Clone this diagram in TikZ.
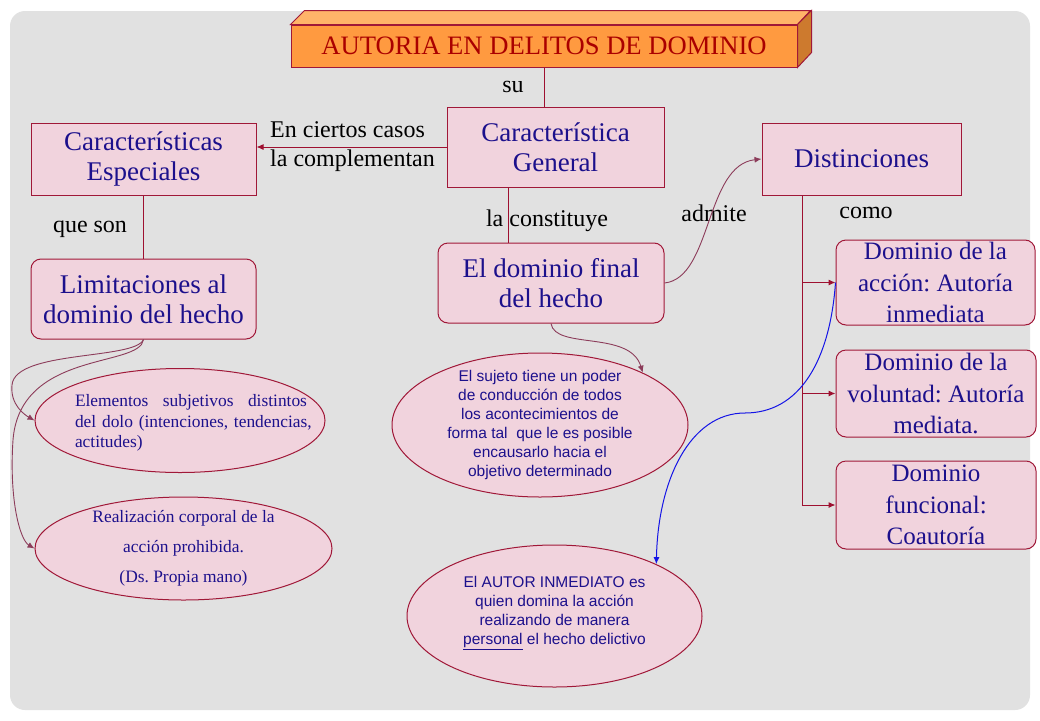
\documentclass[tikz,border=0pt]{standalone}
\usepackage{fontspec}
\setmainfont{Liberation Serif}
\newfontfamily\arialfont{Liberation Sans}
\usetikzlibrary{shapes.geometric,arrows.meta}
\frenchspacing

\definecolor{panelgray}{RGB}{225,225,225}
\definecolor{boxpink}{RGB}{241,211,221}
\definecolor{boxline}{RGB}{160,24,56}
\definecolor{boxtext}{RGB}{28,16,140}
\definecolor{linkred}{RGB}{158,16,48}
\definecolor{curvered}{RGB}{140,60,90}
\definecolor{titlefront}{RGB}{255,154,64}
\definecolor{titletop}{RGB}{255,180,105}
\definecolor{titleside}{RGB}{205,122,46}
\definecolor{titletext}{RGB}{170,0,0}
\definecolor{bluelink}{RGB}{20,20,230}

\begin{document}
\begin{tikzpicture}[x=1pt, y=-1pt,
  box/.style={draw=boxline, line width=1pt, fill=boxpink, text=boxtext, align=center, inner sep=0pt, font=\fontsize{27}{30}\selectfont},
  rbox/.style={box, rounded corners=10pt},
  dbox/.style={rbox, font=\fontsize{25}{31.5}\selectfont},
  oval/.style={ellipse, draw=boxline, line width=1pt, fill=boxpink, inner sep=0pt},
  ovaltext/.style={text=boxtext, align=center, inner sep=0pt},
  lbl/.style={font=\fontsize{24}{29}\selectfont, inner sep=0pt},
  link/.style={draw=linkred, line width=1pt},
  curv/.style={draw=curvered, line width=0.9pt},
  headed/.style={-{Latex[length=7pt,width=6pt]}}
]
% Set the page and the grey panel
\useasboundingbox (0,0) rectangle (1040,720);
\fill[white] (0,0) rectangle (1040,720);
\fill[panelgray, rounded corners=15pt] (10,11) rectangle (1030,710);

% Title block with its top and side faces
\node[draw=boxline, line width=1pt, fill=titlefront, text=titletext, minimum width=506, minimum height=42, inner sep=0pt, font=\fontsize{26.6}{30}\selectfont] (title) at (544,46) {AUTORIA EN DELITOS DE DOMINIO};
\draw[boxline, line width=1pt, fill=titletop] (title.north west) -- ++(14,-14) -- ++(506,0) -- (title.north east) -- cycle;
\draw[boxline, line width=1pt, fill=titleside] (title.north east) -- ++(14,-14) -- ++(0,42) -- (title.south east) -- cycle;

% Boxes
\node[box, minimum width=217, minimum height=80] (cg) at (555.5,147) {Característica\\General};
\node[box, minimum width=225, minimum height=72] (ce) at (143.5,159) {Características\\Especiales};
\node[rbox, minimum width=225, minimum height=80] (lim) at (143.5,299) {Limitaciones al\\dominio del hecho};
\node[rbox, minimum width=226, minimum height=80] (dfin) at (551,283) {El dominio final\\del hecho};
\node[box, minimum width=199, minimum height=72] (dist) at (861.5,159) {Distinciones};
\node[dbox, minimum width=199, minimum height=85] (dacc) at (935.5,282.5) {Dominio de la\\acción: Autoría\\inmediata};
\node[dbox, minimum width=200, minimum height=87] (dvol) at (936,393.5) {Dominio de la\\voluntad: Autoría\\mediata.};
\node[dbox, minimum width=200, minimum height=88] (dfun) at (936,505) {Dominio\\funcional:\\Coautoría};

% Ellipses and their texts
\node[oval, minimum width=290, minimum height=104] (elem) at (180,420.5) {};
\node[ovaltext, text width=240, align=left, font=\fontsize{17.4}{20.5}\selectfont] (elemtxt) at (195,423) {\hbox to 232pt{Elementos\hfil subjetivos\hfil distintos}\\del dolo (intenciones, tendencias,\\actitudes)};
\node[oval, minimum width=297, minimum height=103] (real) at (183.5,548.5) {};
\node[ovaltext, font=\fontsize{17.4}{30}\selectfont] (realtxt) at (real.center) {Realización corporal de la\\acción prohibida.\\(Ds.\ Propia mano)};
\node[oval, minimum width=296, minimum height=144] (suj) at (540,425) {};
\node[ovaltext, font=\arialfont\fontsize{15.5}{19}\selectfont] (sujtxt) at (suj.center) {El sujeto tiene un poder\\de conducción de todos\\los acontecimientos de\\forma tal\ \ que le es posible\\encausarlo hacia el\\objetivo determinado};
\node[oval, minimum width=295, minimum height=142] (autor) at (554.5,616) {};
\node[ovaltext, font=\arialfont\fontsize{15.5}{19}\selectfont] (autortxt) at (554.5,613) {El AUTOR INMEDIATO es\\quien domina la acción\\realizando de manera\\\underline{personal} el hecho delictivo};

% Link words
\node[lbl] (su) at (513,87) {su};
\node[lbl, anchor=west, align=left] (casos) at (270,147) {En ciertos casos\\la complementan};
\node[lbl] (queson) at (90,229) {que son};
\node[lbl] (constituye) at (547,221) {la constituye};
\node[lbl] (admite) at (714,213) {admite};
\node[lbl] (como) at (866,213) {como};

% Straight connectors
\draw[link] (title.south) -- (title.south |- cg.north);
\draw[link, headed] (cg.west) -- (cg.west -| ce.east);
\draw[link] (ce.south) -- (lim.north);
\draw[link] ([xshift=-47.5]cg.south) -- ([xshift=-47.5]cg.south |- dfin.north);
\coordinate (trunk) at ([xshift=-59.5]dist.south);
\draw[link] (trunk) -- (trunk |- dfun.west);
\draw[link, headed] (trunk |- dacc.west) -- (dacc.west);
\draw[link, headed] (trunk |- dvol.west) -- (dvol.west);
\draw[link, headed] (trunk |- dfun.west) -- (dfun.west);

% Curved connectors
\draw[curv, headed] (dfin.east) .. controls (712,278) and (705,165) .. (dist.west);
\draw[curv, headed] (dfin.south) .. controls (555,350) and (630,330) .. (suj.27);
\draw[curv, headed] (lim.south) .. controls (135,360) and (15,350) .. (12,385) .. controls (10,405) and (25,415) .. (elem.west);
\draw[curv, headed] (lim.south) .. controls (140,368) and (20,350) .. (13,440) .. controls (9,500) and (20,540) .. (real.west);
\draw[bluelink, line width=1pt, headed] (dacc.west) .. controls (830,360) and (800,413) .. (745,413) .. controls (690,413) and (658,480) .. (autor.27);
\end{tikzpicture}
\end{document}
